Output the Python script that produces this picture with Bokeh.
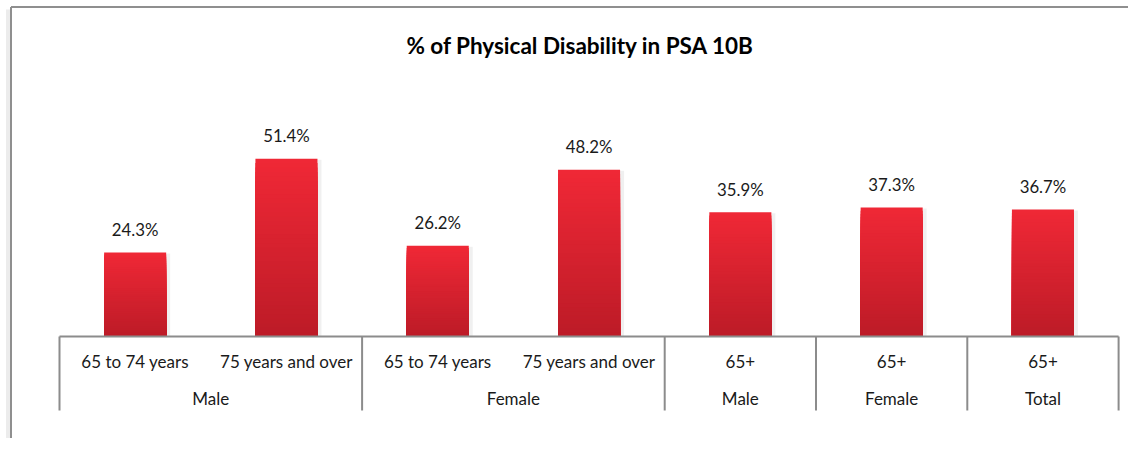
import numpy as np
from bokeh.plotting import figure
from bokeh.models import Range1d, ColumnDataSource
from bokeh.core.properties import value
from bokeh.embed import file_html
from bokeh.resources import INLINE

# ---- data ----
title_text = "% of Physical Disability in PSA 10B"
groups = ["Male", "Male", "Female", "Female", "Male", "Female", "Total"]
ages = ["65 to 74 years", "75 years and over", "65 to 74 years", "75 years and over", "65+", "65+", "65+"]
values = [24.3, 51.4, 26.2, 48.2, 35.9, 37.3, 36.7]

# ---- layout constants (pixel geometry) ----
W, H = 1128, 438
unit_px = 151.3          # px per category
axis_left_px = 59        # canvas px of category boundary 0
base_px = 336            # canvas px of value 0
ppu = 3.46               # px per value unit

x0 = -axis_left_px / unit_px
x1 = (W - axis_left_px) / unit_px
y1 = base_px / ppu
y0 = -(H - base_px) / ppu

def px_x(px):
    return x0 + px / unit_px

def px_y(py):
    return y1 - py / ppu

p = figure(width=W, height=H, output_backend="svg", toolbar_location=None,
           x_range=Range1d(x0, x1), y_range=Range1d(y0, y1),
           min_border=0, min_border_left=0, min_border_right=0,
           min_border_top=0, min_border_bottom=0)
p.xaxis.visible = False
p.yaxis.visible = False
p.grid.visible = False
p.outline_line_color = None
p.background_fill_color = "white"
p.border_fill_color = "white"

FONT = "Lato"
n = len(values)
centers = np.arange(n) + 0.5
bw = 0.41

# chart border (top & left) with soft shadow
p.segment(x0=[px_x(7.5)], y0=[y0], x1=[px_x(7.5)], y1=[px_y(9)],
          line_color="#ececec", line_width=4)
p.segment(x0=[px_x(10.5)], y0=[y0], x1=[px_x(10.5)], y1=[px_y(6.5)],
          line_color="#8f8f8f", line_width=2)
p.segment(x0=[px_x(10.5)], y0=[px_y(6.5)], x1=[x1], y1=[px_y(6.5)],
          line_color="#8f8f8f", line_width=2)

# bar shadows
p.quad(left=centers + bw / 2, right=centers + bw / 2 + 4 / unit_px,
       bottom=[0] * n, top=np.array(values) - 1 / ppu,
       fill_color="#000000", fill_alpha=0.06, line_color=None)

# gradient bars: overlapping slices drawn from top (full height) down
top_rgb = np.array([240, 40, 54])
bot_rgb = np.array([188, 27, 39])
K = 40
L, R, B, T, C = [], [], [], [], []
for c, v in zip(centers, values):
    edges = np.linspace(0, v, K + 1)
    for k in range(K - 1, -1, -1):
        f = (k + 0.5) / K
        rgb = bot_rgb + (top_rgb - bot_rgb) * f
        L.append(c - bw / 2); R.append(c + bw / 2)
        B.append(0); T.append(edges[k + 1])
        C.append("#%02x%02x%02x" % tuple(int(round(x)) for x in rgb))
p.quad(source=ColumnDataSource(dict(left=L, right=R, bottom=B, top=T, color=C)),
       left="left", right="right", bottom="bottom", top="top",
       fill_color="color", line_color=None)

# value labels
p.text(x=centers, y=np.array(values) + 23 / ppu, text=["%.1f%%" % v for v in values],
       text_align="center", text_baseline="middle", text_font=value(FONT),
       text_font_size="16.8px", text_color="#1a1a1a")

# axis line
p.segment(x0=[0], y0=[0], x1=[n], y1=[0], line_color="#8c8c8c", line_width=2)

# category labels (inner)
p.text(x=centers, y=[-25 / ppu] * n, text=ages, text_align="center", text_baseline="middle",
       text_font=value(FONT), text_font_size="17px", text_color="#1a1a1a")

# group spans
bounds = [0]
for i in range(1, n):
    if groups[i] != groups[i - 1]:
        bounds.append(i)
bounds.append(n)
g_labels = [groups[b] for b in bounds[:-1]]
g_centers = [(a + b) / 2 for a, b in zip(bounds[:-1], bounds[1:])]
p.text(x=g_centers, y=[-62 / ppu] * len(g_centers), text=g_labels, text_align="center",
       text_baseline="middle", text_font=value(FONT), text_font_size="17px", text_color="#1a1a1a")
p.segment(x0=bounds, y0=[0] * len(bounds), x1=bounds, y1=[-74 / ppu] * len(bounds),
          line_color="#8c8c8c", line_width=2)

# title
p.text(x=[px_x(580)], y=[px_y(45)], text=[title_text],
       text_align="center", text_baseline="middle", text_font=value(FONT),
       text_font_style="bold", text_font_size="22.5px", text_color="#000000")

open("out.html", "w").write(file_html(p, INLINE))
